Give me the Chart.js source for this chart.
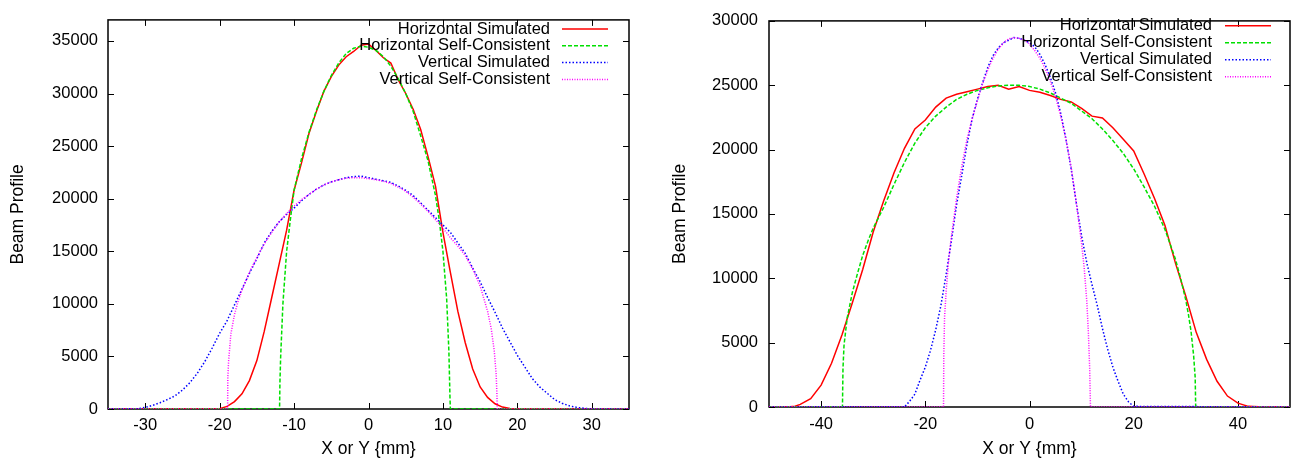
<!DOCTYPE html>
<html>
<head>
<meta charset="utf-8">
<script src="https://cdn.jsdelivr.net/npm/chart.js@4.4.0/dist/chart.umd.min.js"></script>
<style>
  body { margin: 0; background: #fff; }
  #wrap { position: relative; width: 1291px; height: 460px; }
  canvas { position: absolute; top: 0; }
  #myChart1 { left: 0; }
  #myChart2 { left: 645px; }
</style>
</head>
<body>
<div id="wrap">
  <canvas id="myChart1" width="645" height="460"></canvas>
  <canvas id="myChart2" width="646" height="460"></canvas>
</div>
<script>
const seriesNames = ['Horizontal Simulated', 'Horizontal Self-Consistent', 'Vertical Simulated', 'Vertical Self-Consistent'];
const xTitle = 'X or Y {mm}';
const yTitle = 'Beam Profile';

// left plot
const leftXTicks = [-30, -20, -10, 0, 10, 20, 30];
const leftYTicks = [0, 5000, 10000, 15000, 20000, 25000, 30000, 35000];

const leftHSimX = [-35, -21, -20, -19, -18, -17, -16, -15, -14, -13, -12, -11, -10, -9, -8, -7, -6, -5, -4, -3, -2, -1, 0,
  1, 2, 3, 4, 5, 6, 7, 8, 9, 10, 11, 12, 13, 14, 15, 16, 17, 18, 19, 20, 35];
const leftHSimY = [0, 0, 30, 250, 700, 1450, 2700, 4600, 7400, 10600, 13800, 17000, 20800, 23400, 26200, 28300, 30200, 31600, 32700, 33500, 34000, 34600, 34700,
  34100, 33400, 32900, 31300, 30000, 28500, 26600, 24000, 21200, 16800, 13000, 9300, 6300, 3800, 2100, 1100, 500, 180, 50, 0, 0];

const leftHSCX = [-35, -11.95, -11.9, -11.8, -11.5, -11, -10.5, -10, -9, -8, -7, -6, -5, -4, -3, -2, -1, 0,
  1, 2, 3, 4, 5, 6, 7, 8, 9, 9.5, 10, 10.5, 10.8, 10.95, 11, 35];
const leftHSCY = [0, 0, 2500, 5000, 10000, 15000, 18000, 20800, 23800, 26300, 28400, 30200, 31700, 32900, 33800, 34300, 34500, 34400,
  34100, 33500, 32600, 31400, 30000, 28300, 26000, 23600, 20300, 18000, 15000, 10500, 5500, 1000, 0, 0];

const leftVSimX = [-35, -31, -30, -29, -28, -27, -26, -25, -24, -23, -22, -21, -20, -19, -18, -17, -16, -15, -14, -13, -12, -11, -10, -9, -8, -7, -6, -5, -4, -3, -2, -1, 0,
  1, 2, 3, 4, 5, 6, 7, 8, 9, 10, 11, 12, 13, 14, 15, 16, 17, 18, 19, 20, 21, 22, 23, 24, 25, 26, 27, 28, 29, 30, 35];
const leftVSimY = [0, 20, 150, 350, 600, 900, 1250, 1800, 2500, 3400, 4500, 5800, 7200, 8400, 9900, 11400, 12900, 14300, 15800, 16900, 17800, 18500, 19100, 19800, 20400, 20900, 21300, 21600, 21800, 22000, 22100, 22150, 22000,
  21850, 21700, 21550, 21200, 20800, 20300, 19600, 18900, 18200, 17500, 16800, 15800, 14800, 13400, 12100, 10600, 9200, 7700, 6400, 5100, 4000, 2900, 2100, 1500, 900, 550, 300, 150, 60, 10, 0];

const leftVSCX = [-35, -18.93, -18.9, -18.8, -18.5, -18, -17.5, -17, -16, -15, -14, -13, -12, -11, -10, -9, -8, -7, -6, -5, -4, -3, -2, -1, 0,
  1, 2, 3, 4, 5, 6, 7, 8, 9, 10, 11, 12, 13, 14, 15, 16, 16.5, 16.9, 17.15, 17.25, 17.3, 35];
const leftVSCY = [0, 0, 3000, 4500, 7100, 9000, 10300, 11300, 13000, 14400, 15700, 16800, 17800, 18600, 19300, 19900, 20400, 20900, 21300, 21600, 21800, 21950, 22000, 22000, 21900,
  21800, 21650, 21450, 21100, 20700, 20150, 19500, 18800, 18000, 17200, 16300, 15500, 14600, 13300, 11700, 9300, 7600, 5500, 3300, 1500, 0, 0];

// right plot
const rightXTicks = [-40, -20, 0, 20, 40];
const rightYTicks = [0, 5000, 10000, 15000, 20000, 25000, 30000];

const rightHSimX = [-50, -48, -46, -45, -44, -42, -40, -38, -36, -34, -32, -30, -28, -26, -24, -22, -20, -18, -16, -14, -12, -10, -8, -6, -4, -2, 0,
  2, 4, 6, 8, 10, 12, 14, 16, 18, 20, 22, 24, 26, 28, 30, 32, 34, 36, 38, 40, 42, 44, 46, 50];
const rightHSimY = [0, 0, 20, 60, 200, 650, 1700, 3400, 5600, 8100, 10700, 13600, 16000, 18200, 20100, 21600, 22300, 23300, 24000, 24300, 24500, 24700, 24900, 25000, 24700, 24900, 24600,
  24450, 24200, 23900, 23700, 23200, 22600, 22450, 21700, 20800, 19900, 18100, 16200, 14100, 11200, 8600, 5800, 3700, 2000, 850, 300, 50, 10, 0, 0];

const rightHSCX = [-50, -35.9, -35.8, -35.6, -35, -34, -33, -32, -31, -30, -28, -26, -24, -22, -20, -18, -16, -14, -12, -10, -8, -6, -4, -2, 0,
  2, 4, 6, 8, 10, 12, 14, 16, 18, 20, 22, 24, 26, 28, 29, 30, 30.5, 31, 31.5, 31.8, 31.9, 50];
const rightHSCY = [0, 0, 3000, 4800, 6900, 8900, 10400, 11800, 12900, 13900, 15500, 17300, 19000, 20500, 21700, 22600, 23300, 23900, 24300, 24600, 24800, 24950, 25000, 25000, 24900,
  24700, 24400, 24000, 23600, 23000, 22400, 21600, 20700, 19700, 18500, 17100, 15600, 13800, 11500, 10000, 8300, 7200, 5900, 4000, 2300, 0, 0];

const rightVSimX = [-50, -24, -23, -22, -21, -20, -19, -18, -17, -16, -15, -14, -13, -12, -11, -10, -9, -8, -7, -6, -5, -4, -3, -2, -1, 0,
  1, 2, 3, 4, 5, 6, 7, 8, 9, 10, 11, 12, 13, 14, 15, 16, 17, 18, 19, 20, 50];
const rightVSimY = [0, 0, 450, 1000, 2100, 3100, 4400, 6000, 7900, 10300, 12900, 15700, 18000, 20400, 22400, 23900, 25200, 26400, 27300, 27900, 28300, 28500, 28700, 28650, 28500, 28300,
  28000, 27400, 26600, 25600, 24400, 22800, 20800, 18500, 15800, 13300, 11200, 9500, 7900, 6100, 4500, 3100, 2000, 1000, 400, 50, 0];

const rightVSCX = [-50, -16.5, -16.45, -16.3, -16, -15.5, -15, -14, -13, -12, -11, -10, -9, -8, -7, -6, -5, -4, -3, -2, -1, 0,
  1, 2, 3, 4, 5, 6, 7, 8, 9, 10, 10.5, 11, 11.3, 11.55, 11.65, 11.7, 50];
const rightVSCY = [0, 0, 4000, 7000, 9000, 11500, 13200, 16200, 18700, 20800, 22400, 23800, 25100, 26200, 27100, 27800, 28300, 28600, 28700, 28650, 28500, 28200,
  27700, 27100, 26300, 25300, 24100, 22600, 20800, 18600, 15800, 12700, 10800, 8200, 5800, 3000, 1000, 0, 0];

const FONT = '"Liberation Sans", Arial, Helvetica, sans-serif';
const colors = ['#ff0000', '#00e000', '#0000ff', '#ff00ff'];
const dashes = [[], [4, 2], [1.5, 2], [1, 1.5]];

function zip(xs, ys) {
  const out = [];
  for (let i = 0; i < xs.length; i++) {
    out.push({ x: xs[i], y: ys[i] });
  }
  return out;
}

function makeDatasets(series) {
  return series.map((s, i) => ({
    label: seriesNames[i],
    data: zip(s[0], s[1]),
    borderColor: colors[i],
    borderDash: dashes[i],
    borderWidth: 1.5,
    pointRadius: 0,
    tension: 0,
    fill: false,
    order: 3 - i
  }));
}

// gnuplot style box, inside tick marks and key
const gnuFrame = {
  id: 'gnuFrame',
  beforeDatasetsDraw(chart) {
    const { ctx, chartArea: a, scales } = chart;
    ctx.save();
    ctx.strokeStyle = '#000';
    ctx.lineWidth = 1;
    ctx.beginPath();
    scales.x.ticks.forEach(t => {
      const px = Math.round(scales.x.getPixelForValue(t.value)) + 0.5;
      ctx.moveTo(px, a.bottom); ctx.lineTo(px, a.bottom - 6);
      ctx.moveTo(px, a.top); ctx.lineTo(px, a.top + 6);
    });
    scales.y.ticks.forEach(t => {
      const py = Math.round(scales.y.getPixelForValue(t.value)) + 0.5;
      ctx.moveTo(a.left, py); ctx.lineTo(a.left + 6, py);
      ctx.moveTo(a.right, py); ctx.lineTo(a.right - 6, py);
    });
    ctx.stroke();
    ctx.lineWidth = 1.5;
    ctx.strokeRect(a.left, a.top, a.right - a.left, a.bottom - a.top);
    ctx.restore();
  },
  afterDatasetsDraw(chart, args, opts) {
    const ctx = chart.ctx;
    ctx.save();
    ctx.font = opts.fontSize + 'px ' + FONT;
    ctx.textAlign = 'right';
    ctx.textBaseline = 'middle';
    chart.data.datasets.forEach((ds, i) => {
      const y = opts.top + i * opts.step;
      ctx.fillStyle = '#000';
      ctx.fillText(ds.label, opts.textRight, y);
      ctx.strokeStyle = ds.borderColor;
      ctx.lineWidth = ds.borderWidth;
      ctx.setLineDash(ds.borderDash);
      ctx.beginPath();
      ctx.moveTo(opts.x0, y);
      ctx.lineTo(opts.x1, y);
      ctx.stroke();
    });
    ctx.restore();
  }
};

function makeConfig(c) {
  return {
    type: 'line',
    data: { datasets: makeDatasets(c.series) },
    plugins: [gnuFrame],
    options: {
      responsive: false,
      animation: false,
      devicePixelRatio: 1,
      layout: { padding: { top: c.padTop, right: c.padRight, left: 0, bottom: 0 } },
      plugins: {
        legend: { display: false },
        tooltip: { enabled: false },
        gnuFrame: c.key
      },
      scales: {
        x: {
          type: 'linear',
          min: c.xMin,
          max: c.xMax,
          grid: { display: false, drawTicks: false },
          border: { display: false },
          afterBuildTicks: s => { s.ticks = c.xTicks.map(v => ({ value: v })); },
          afterFit: s => { s.height = c.xHeight; },
          ticks: {
            padding: c.xPad, color: '#000', maxRotation: 0, autoSkip: false,
            font: { family: FONT, size: 16.5 },
            callback: v => String(v)
          },
          title: {
            display: true, text: xTitle, color: '#000',
            font: { family: FONT, size: 17.5 },
            padding: 0
          }
        },
        y: {
          min: 0,
          max: c.yMax,
          grid: { display: false, drawTicks: false },
          border: { display: false },
          afterBuildTicks: s => { s.ticks = c.yTicks.map(v => ({ value: v })); },
          afterFit: s => { s.width = c.yWidth; },
          ticks: {
            padding: c.yPad, color: '#000', autoSkip: false,
            font: { family: FONT, size: 16.5 },
            callback: v => String(v)
          },
          title: {
            display: true, text: yTitle, color: '#000',
            font: { family: FONT, size: 17.5 },
            padding: { top: c.yTitlePad, bottom: 0 }
          }
        }
      }
    }
  };
}

const leftChart = new Chart(document.getElementById('myChart1'), makeConfig({
  series: [[leftHSimX, leftHSimY], [leftHSCX, leftHSCY], [leftVSimX, leftVSimY], [leftVSCX, leftVSCY]],
  xMin: -35, xMax: 35, yMax: 37000,
  xTicks: leftXTicks, yTicks: leftYTicks,
  padTop: 15, padRight: 16, yWidth: 108, xHeight: 51,
  xPad: 7, yPad: 10, yTitlePad: 8,
  key: { textRight: 550, x0: 562, x1: 608, top: 29, step: 16.8, fontSize: 16.5 }
}));

const rightChart = new Chart(document.getElementById('myChart2'), makeConfig({
  series: [[rightHSimX, rightHSimY], [rightHSCX, rightHSCY], [rightVSimX, rightVSimY], [rightVSCX, rightVSCY]],
  xMin: -50, xMax: 50, yMax: 30000,
  xTicks: rightXTicks, yTicks: rightYTicks,
  padTop: 13, padRight: 1, yWidth: 124, xHeight: 53,
  xPad: 8, yPad: 11, yTitlePad: 25,
  key: { textRight: 567, x0: 580, x1: 626, top: 25.7, step: 17, fontSize: 16.5 }
}));
</script>
</body>
</html>
